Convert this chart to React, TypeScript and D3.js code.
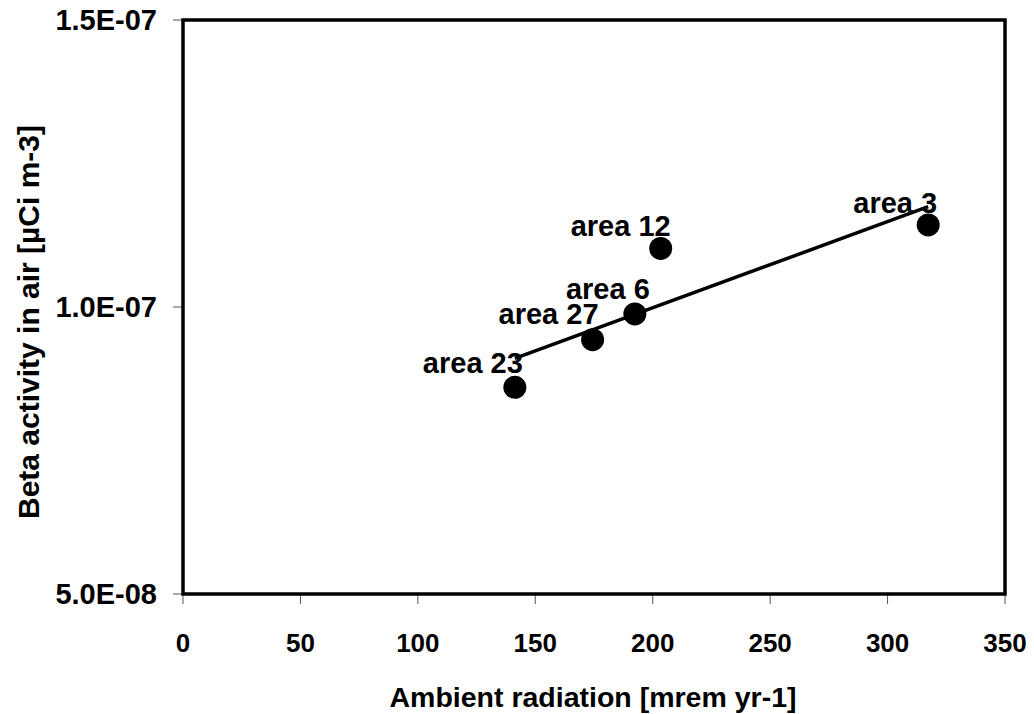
import React from "react";
import * as d3 from "d3";

const areaNames = ["area 23", "area 27", "area 6", "area 12", "area 3"];
const ambientRadiation = [141.3, 174.4, 192.4, 203.4, 317.3];
const betaActivity = [8.6e-8, 9.43e-8, 9.88e-8, 1.102e-7, 1.143e-7];
const xTicks = [0, 50, 100, 150, 200, 250, 300, 350];
const yTicks = [5e-8, 1e-7, 1.5e-7];
const yTickLabels = ["5.0E-08", "1.0E-07", "1.5E-07"];
// label offsets (px) relative to the point: [dx of text centre, dy of baseline]
const labelOffsets: [number, number][] = [
  [-42, -14],
  [-44, -16],
  [-27, -15],
  [-40, -12],
  [-33, -12],
];

const W = 1034;
const H = 714;
const M = { left: 183, right: 1005, top: 20, bottom: 594 };
const FONT = "'Liberation Sans', Arial, sans-serif";

export default function App() {
  const x = d3.scaleLinear().domain([0, 350]).range([M.left, M.right]);
  const y = d3.scaleLinear().domain([5e-8, 1.5e-7]).range([M.bottom, M.top]);

  const n = ambientRadiation.length;
  const mx = d3.mean(ambientRadiation) as number;
  const my = d3.mean(betaActivity) as number;
  let sxy = 0,
    sxx = 0;
  for (let i = 0; i < n; i++) {
    sxy += (ambientRadiation[i] - mx) * (betaActivity[i] - my);
    sxx += (ambientRadiation[i] - mx) ** 2;
  }
  const slope = sxy / sxx;
  const intercept = my - slope * mx;
  const [x0, x1] = d3.extent(ambientRadiation) as [number, number];
  const trend: [number, number][] = [
    [x0, intercept + slope * x0],
    [x1, intercept + slope * x1],
  ];
  const line = d3
    .line<[number, number]>()
    .x((d) => x(d[0]))
    .y((d) => y(d[1]));

  return (
    <svg
      width={W}
      height={H}
      style={{ position: "absolute", left: 0, top: 0, background: "#fff" }}
      fontFamily={FONT}
      fontWeight="bold"
    >
      <rect x={0} y={0} width={W} height={H} fill="#fff" />
      {/* ticks */}
      {xTicks.map((t) => (
        <line
          key={"xt" + t}
          x1={x(t)}
          x2={x(t)}
          y1={M.bottom}
          y2={M.bottom + 10}
          stroke="#555"
          strokeWidth={1}
        />
      ))}
      {yTicks.map((t) => (
        <line
          key={"yt" + t}
          x1={M.left - 10}
          x2={M.left}
          y1={y(t)}
          y2={y(t)}
          stroke="#555"
          strokeWidth={1}
        />
      ))}
      {/* frame */}
      <rect
        x={M.left}
        y={M.top}
        width={M.right - M.left}
        height={M.bottom - M.top}
        fill="none"
        stroke="#000"
        strokeWidth={3.5}
      />
      {/* tick labels */}
      {xTicks.map((t) => (
        <text key={"xl" + t} x={x(t)} y={652} textAnchor="middle" fontSize={26}>
          {t}
        </text>
      ))}
      {yTicks.map((t, i) => (
        <text key={"yl" + t} x={157} y={y(t) + 10} textAnchor="end" fontSize={29}>
          {yTickLabels[i]}
        </text>
      ))}
      {/* axis titles */}
      <text x={593} y={707} textAnchor="middle" fontSize={28.5}>
        Ambient radiation [mrem yr-1]
      </text>
      <text
        transform={`translate(39,322) rotate(-90)`}
        textAnchor="middle"
        fontSize={30}
      >
        Beta activity in air [µCi m-3]
      </text>
      {/* trendline */}
      <path d={line(trend) || ""} fill="none" stroke="#000" strokeWidth={3.5} />
      {/* points */}
      {ambientRadiation.map((v, i) => (
        <circle key={"p" + i} cx={x(v)} cy={y(betaActivity[i])} r={11.5} fill="#000" />
      ))}
      {/* labels */}
      {ambientRadiation.map((v, i) => (
        <text
          key={"lb" + i}
          x={x(v) + labelOffsets[i][0]}
          y={y(betaActivity[i]) + labelOffsets[i][1]}
          textAnchor="middle"
          fontSize={29}
        >
          {areaNames[i]}
        </text>
      ))}
    </svg>
  );
}
